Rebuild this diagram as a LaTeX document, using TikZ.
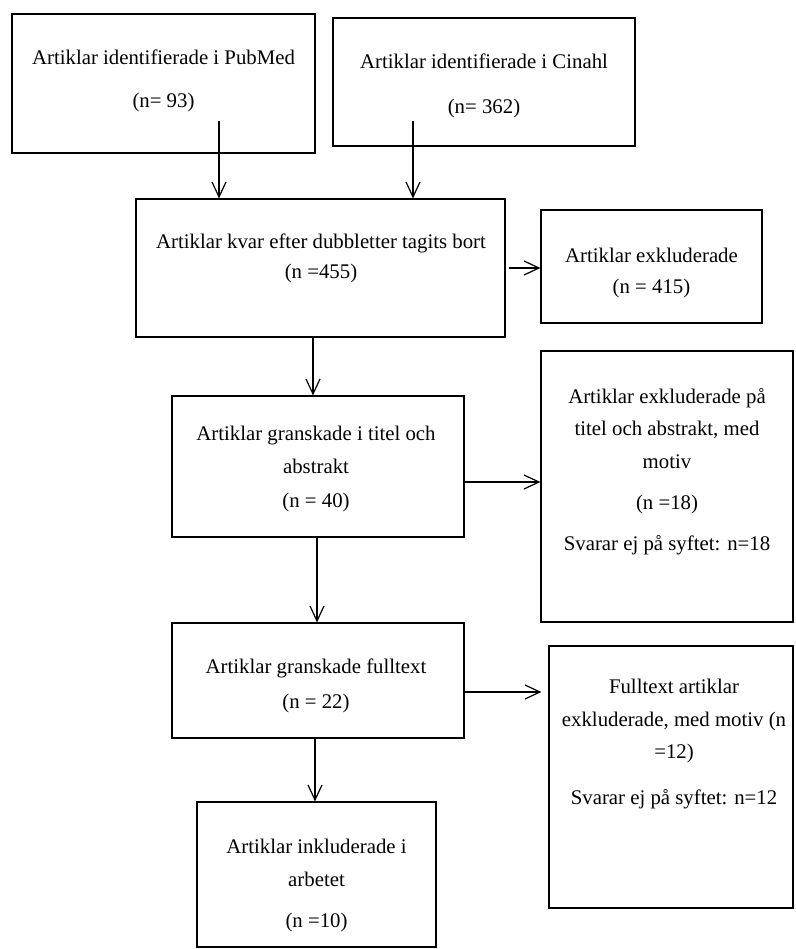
\documentclass[tikz,border=0pt]{standalone}
\usepackage{fontspec}
\setmainfont{Liberation Serif}
\usetikzlibrary{arrows.meta}

\begin{document}
\begin{tikzpicture}[
    x=1pt, y=-1pt,
    >={Straight Barb[length=15pt, width=14pt]},
    line width=1.2pt,
    box/.style={rectangle, draw, inner sep=0pt},
    txt/.style={align=center, anchor=base, inner sep=0pt, font=\fontsize{20.8}{32}\selectfont}
]
\useasboundingbox (0,0) rectangle (795,949);

% Search results (text placed at last baseline)
\node[box, minimum width=303pt, minimum height=139pt] (pubmed) at (163.5,83.5) {};
\node[txt] (pubmed_txt) at (163.5,108) {Artiklar identifierade i PubMed\\[11pt](n= 93)};
\node[box, minimum width=302pt, minimum height=128pt] (cinahl) at (484,82) {};
\node[txt] (cinahl_txt) at (484,114) {Artiklar identifierade i Cinahl\\[13pt](n= 362)};

% After duplicates
\node[box, minimum width=369pt, minimum height=138pt] (dubbletter) at (320.5,268) {};
\node[txt] (dubbletter_txt) at (321,279) {Artiklar kvar efter dubbletter tagits bort\\[-2pt](n =455)};
\node[box, minimum width=221pt, minimum height=113pt] (excl_dup) at (651.5,266.5) {};
\node[txt] (excl_dup_txt) at (651.5,294) {Artiklar exkluderade\\(n = 415)};

% Title and abstract
\node[box, minimum width=292pt, minimum height=141pt] (titel_abs) at (318,466.5) {};
\node[txt] (titel_abs_txt) at (316,507) {Artiklar granskade i titel och\\[1pt]abstrakt\\[2pt](n = 40)};
\node[box, minimum width=252pt, minimum height=271pt] (excl_titel) at (667,486.5) {};
\node[txt] (excl_titel_txt) at (667,550) {Artiklar exkluderade på\\titel och abstrakt, med\\[1pt]motiv\\[9pt](n =18)\\[9pt]Svarar ej på syftet: n=18};

% Full text
\node[box, minimum width=292pt, minimum height=115pt] (fulltext) at (318,680.5) {};
\node[txt] (fulltext_txt) at (316,708) {Artiklar granskade fulltext\\[3pt](n = 22)};
\node[box, minimum width=244pt, minimum height=262pt] (excl_full) at (671,777) {};
\node[txt] (excl_full_txt) at (674,804) {Fulltext artiklar\\[1pt]exkluderade, med motiv (n\\=12)\\[14pt]Svarar ej på syftet: n=12};

% Included
\node[box, minimum width=239pt, minimum height=145pt] (included) at (316.5,874.5) {};
\node[txt] (included_txt) at (316.5,927) {Artiklar inkluderade i\\[1pt]arbetet\\[9pt](n =10)};

% Arrows
\coordinate (pubmed_out) at (219,121);
\coordinate (cinahl_out) at (413,121);
\draw[->] (pubmed_out) -- (pubmed_out |- dubbletter.north);
\draw[->] (cinahl_out) -- (cinahl_out |- dubbletter.north);
\draw[->, shorten <=3pt] (dubbletter.east) -- (excl_dup.west |- dubbletter.east);
\draw[->] (dubbletter.south -| 313,0) -- (titel_abs.north -| 313,0);
\draw[->] (titel_abs.east |- 0,482) -- (excl_titel.west |- 0,482);
\draw[->] (titel_abs.south -| 317,0) -- (fulltext.north -| 317,0);
\draw[->, shorten >=7pt] (fulltext.east |- 0,692) -- (excl_full.west |- 0,692);
\draw[->] (fulltext.south -| 315,0) -- (included.north -| 315,0);

\end{tikzpicture}
\end{document}
